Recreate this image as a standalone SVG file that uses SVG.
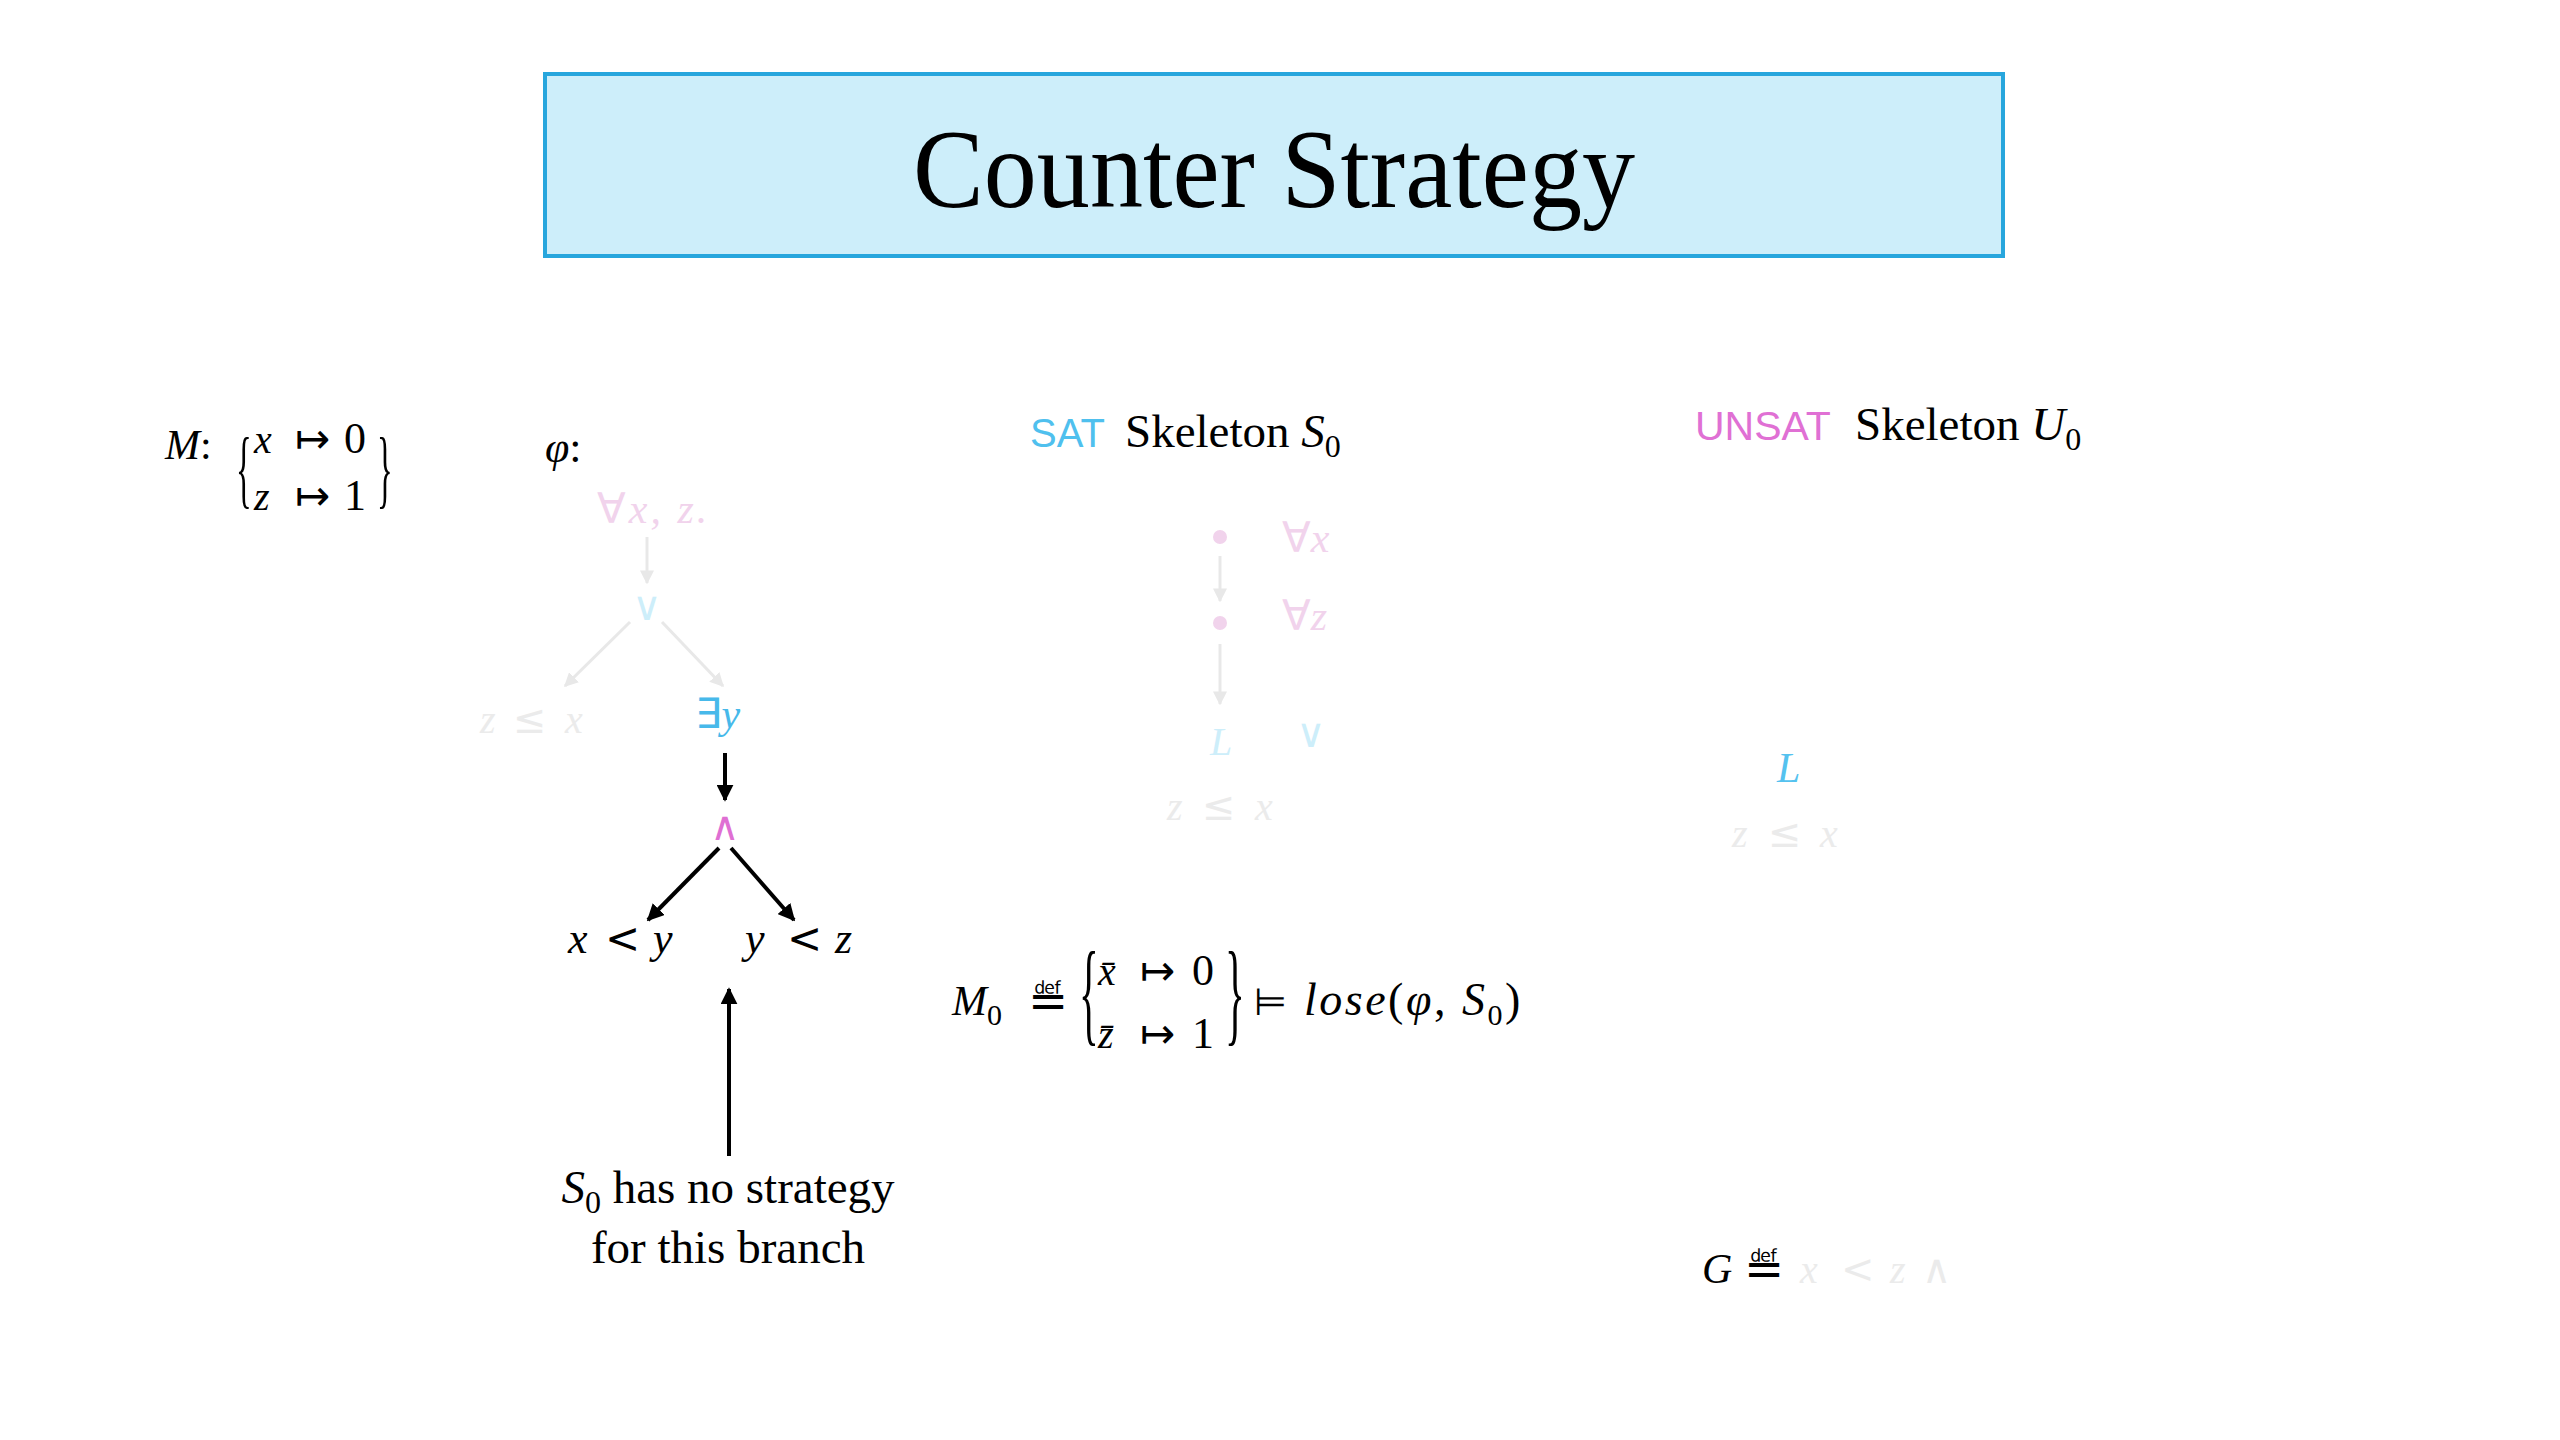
<svg xmlns="http://www.w3.org/2000/svg" width="2560" height="1440" viewBox="0 0 2560 1440">
<defs>
<style>
.tt{font-family:"Liberation Serif","Times New Roman",serif}
.mi{font-family:"Liberation Serif","DejaVu Serif",serif;font-style:italic}
.mr{font-family:"Liberation Serif","DejaVu Serif",serif;font-style:normal}
.sy{font-family:"DejaVu Sans",sans-serif;font-style:normal}
.ss{font-family:"Liberation Sans",Arial,sans-serif}
.fpink{fill:#f1d3ec}
.fblue{fill:#cdeefa}
.fgray{fill:#ebebeb}
.blk{stroke:#000;stroke-width:4;fill:none}
.fl{stroke:#e8e8e8;stroke-width:3;fill:none}
</style>
<marker id="ah" viewBox="0 0 10 10" refX="9" refY="5" markerWidth="17" markerHeight="17" markerUnits="userSpaceOnUse" orient="auto">
<path d="M0,0 L10,5 L0,10 z" fill="#000"/>
</marker>
<marker id="ahf" viewBox="0 0 10 10" refX="9" refY="5" markerWidth="14" markerHeight="14" markerUnits="userSpaceOnUse" orient="auto">
<path d="M0,0 L10,5 L0,10 z" fill="#e8e8e8"/>
</marker>
</defs>
<rect width="2560" height="1440" fill="#fff"/>

<g id="title">
<rect x="545" y="74" width="1458" height="182" fill="#cdeefa" stroke="#27a6dd" stroke-width="4"/>
<text class="tt" x="1274" y="207" font-size="112" text-anchor="middle" textLength="722" lengthAdjust="spacingAndGlyphs">Counter Strategy</text>
</g>

<g id="model-M">
<text class="mi" x="165" y="459" font-size="42">M<tspan class="mr">:</tspan></text>
<text class="mr" transform="translate(236,497) scale(0.38,1)" font-size="86">{</text>
<text class="mi" y="453" font-size="40"><tspan x="254">x</tspan><tspan class="sy" x="295" font-size="42">↦</tspan><tspan class="mr" x="344" font-size="44">0</tspan></text>
<text class="mi" y="510" font-size="40"><tspan x="254">z</tspan><tspan class="sy" x="295" font-size="42">↦</tspan><tspan class="mr" x="344" font-size="44">1</tspan></text>
<text class="mr" transform="translate(377,497) scale(0.38,1)" font-size="86">}</text>
</g>

<g id="phi-label">
<text class="mi" x="545" y="462" font-size="44">φ<tspan class="mr">:</tspan></text>
</g>

<g id="phi-forall">
<text class="mi fpink" x="597" y="523" font-size="42" letter-spacing="3"><tspan class="sy">∀</tspan>x, z.</text>
</g>
<g id="phi-or">
<text class="sy fblue" x="647" y="620" font-size="40" text-anchor="middle">∨</text>
</g>
<g id="phi-leaf-zx">
<text class="mi fgray" y="733" font-size="40"><tspan x="480">z</tspan><tspan class="sy" x="513">≤</tspan><tspan x="565">x</tspan></text>
</g>
<g id="phi-exists">
<text x="695" y="728" font-size="42" fill="#47b9ea"><tspan class="sy">∃</tspan><tspan class="mi">y</tspan></text>
</g>
<g id="phi-and">
<text class="sy" x="725" y="840" font-size="40" text-anchor="middle" fill="#df6fd3">∧</text>
</g>
<g id="phi-leaf-xy">
<text class="mi" y="953" font-size="44"><tspan x="568">x</tspan><tspan class="sy" x="605" font-size="42">&lt;</tspan><tspan x="653">y</tspan></text>
</g>
<g id="phi-leaf-yz">
<text class="mi" y="953" font-size="44"><tspan x="745">y</tspan><tspan class="sy" x="787" font-size="42">&lt;</tspan><tspan x="835">z</tspan></text>
</g>

<g id="note">
<text class="tt" x="728" y="1203" font-size="47" text-anchor="middle"><tspan font-style="italic">S</tspan><tspan font-size="32" dy="10">0</tspan><tspan dy="-10"> has no strategy</tspan></text>
<text class="tt" x="728" y="1263" font-size="47" text-anchor="middle">for this branch</text>
</g>

<g id="sat-header">
<text class="ss" x="1030" y="447" font-size="40" fill="#4fc0ee">SAT</text>
<text class="tt" x="1125" y="447" font-size="47">Skeleton <tspan font-style="italic">S</tspan><tspan font-size="32" dy="10">0</tspan></text>
</g>

<g id="skel-forall-x">
<circle cx="1220" cy="537" r="7" fill="#f1d3ec"/>
<text class="mi fpink" x="1282" y="552" font-size="42"><tspan class="sy">∀</tspan>x</text>
</g>
<g id="skel-forall-z">
<circle cx="1220" cy="623" r="7" fill="#f1d3ec"/>
<text class="mi fpink" x="1282" y="630" font-size="42"><tspan class="sy">∀</tspan>z</text>
</g>
<g id="skel-L">
<text class="mi fblue" x="1210" y="755" font-size="40">L</text>
</g>
<g id="skel-or">
<text class="sy fblue" x="1311" y="747" font-size="40" text-anchor="middle">∨</text>
</g>
<g id="skel-leaf-zx">
<text class="mi fgray" y="820" font-size="40"><tspan x="1167">z</tspan><tspan class="sy" x="1202">≤</tspan><tspan x="1255">x</tspan></text>
</g>

<g id="model-M0">
<text class="mi" x="952" y="1015" font-size="42">M<tspan class="mr" font-size="30" dy="10">0</tspan></text>
<text class="sy" x="1048" y="1017" font-size="48" text-anchor="middle">≝</text>
<text class="mr" transform="translate(1079,1031) scale(0.36,1)" font-size="114">{</text>
<text class="mi" y="985" font-size="40"><tspan x="1098">x̄</tspan><tspan class="sy" x="1140" font-size="42">↦</tspan><tspan class="mr" x="1192" font-size="44">0</tspan></text>
<text class="mi" y="1048" font-size="40"><tspan x="1098">z̄</tspan><tspan class="sy" x="1140" font-size="42">↦</tspan><tspan class="mr" x="1192" font-size="44">1</tspan></text>
<text class="mr" transform="translate(1225,1031) scale(0.36,1)" font-size="114">}</text>
<text class="sy" x="1254" y="1015" font-size="38">⊨</text>
<text class="mi" x="1304" y="1015" font-size="46" letter-spacing="2.5">lose<tspan class="mr">(</tspan>φ<tspan class="mr">, </tspan>S<tspan class="mr" font-size="30" dy="10">0</tspan><tspan class="mr" dy="-10">)</tspan></text>
</g>

<g id="unsat-header">
<text class="ss" x="1695" y="440" font-size="41" fill="#e070d4">UNSAT</text>
<text class="tt" x="1855" y="440" font-size="47">Skeleton <tspan font-style="italic">U</tspan><tspan font-size="32" dy="10">0</tspan></text>
</g>
<g id="unsat-L">
<text class="mi" x="1777" y="782" font-size="42" fill="#55c2ef">L</text>
</g>
<g id="unsat-leaf-zx">
<text class="mi fgray" y="847" font-size="40"><tspan x="1732">z</tspan><tspan class="sy" x="1768">≤</tspan><tspan x="1820">x</tspan></text>
</g>

<g id="goal-G">
<text class="mi" x="1702" y="1283" font-size="42">G</text>
<text class="sy" x="1764" y="1285" font-size="48" text-anchor="middle">≝</text>
<text class="mi fgray" y="1283" font-size="40"><tspan x="1800">x</tspan><tspan class="sy" x="1841">&lt;</tspan><tspan x="1890">z</tspan><tspan class="sy" x="1922">∧</tspan></text>
</g>

<g id="connectors">
<line class="fl" x1="647" y1="537" x2="647" y2="583" marker-end="url(#ahf)"/>
<line class="fl" x1="630" y1="622" x2="565" y2="686" marker-end="url(#ahf)"/>
<line class="fl" x1="662" y1="622" x2="723" y2="686" marker-end="url(#ahf)"/>
<line class="blk" x1="725" y1="753" x2="725" y2="800" marker-end="url(#ah)"/>
<line class="blk" x1="719" y1="848" x2="648" y2="920" marker-end="url(#ah)"/>
<line class="blk" x1="731" y1="848" x2="794" y2="920" marker-end="url(#ah)"/>
<line class="blk" x1="729" y1="1156" x2="729" y2="989" marker-end="url(#ah)"/>
<line class="fl" x1="1220" y1="556" x2="1220" y2="601" marker-end="url(#ahf)"/>
<line class="fl" x1="1220" y1="644" x2="1220" y2="704" marker-end="url(#ahf)"/>
</g>
</svg>
